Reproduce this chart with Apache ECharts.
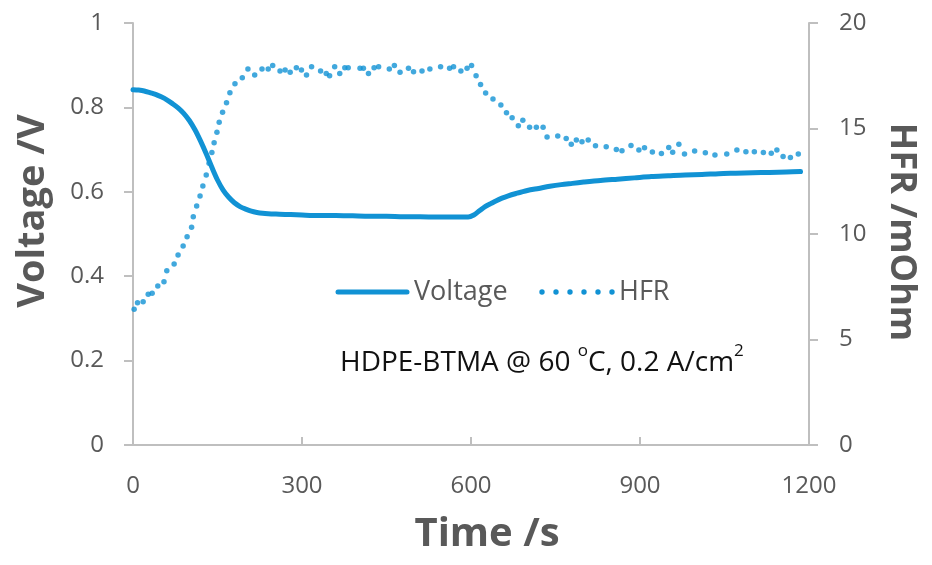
<!DOCTYPE html>
<html>
<head>
<meta charset="utf-8">
<script src="https://cdn.jsdelivr.net/npm/echarts@6/dist/echarts.min.js"></script>
<style>
  html, body { margin: 0; padding: 0; background: #fff; }
  #chart { width: 932px; height: 565px; }
</style>
</head>
<body>
<div id="chart"></div>
<script>
// Cell voltage trace (s, V)
const voltTime = [0, 10, 20, 30, 40, 50, 60, 70, 80, 90, 100, 110, 120, 130, 140, 150, 160, 170, 180, 190,
  200, 210, 220, 230, 240, 260, 280, 300, 330, 360, 390, 420, 450, 480, 510, 540, 570, 595,
  605, 615, 625, 635, 645, 655, 665, 680, 700, 720, 740, 760, 780, 800, 830, 860, 890, 920,
  950, 980, 1010, 1040, 1070, 1100, 1130, 1160, 1185];
const voltage = [0.842, 0.841, 0.839, 0.835, 0.831, 0.825, 0.818, 0.809, 0.799, 0.786, 0.769, 0.747, 0.720, 0.690, 0.658, 0.628, 0.604, 0.587, 0.574, 0.565,
  0.559, 0.554, 0.551, 0.549, 0.548, 0.547, 0.546, 0.545, 0.544, 0.544, 0.543, 0.542, 0.542, 0.541, 0.541, 0.540, 0.540, 0.540,
  0.545, 0.555, 0.565, 0.572, 0.579, 0.585, 0.590, 0.596, 0.603, 0.608, 0.613, 0.617, 0.620, 0.623, 0.627, 0.630, 0.633, 0.636,
  0.638, 0.640, 0.641, 0.643, 0.644, 0.645, 0.646, 0.647, 0.648];

// High-frequency resistance readings (s, mOhm)
const hfrTime = [2, 8, 18, 27, 34, 44, 55, 60, 73, 80, 89, 96, 104, 107, 113, 119, 124, 130, 135, 140,
  144, 149, 153, 159, 166, 172, 181, 194, 204, 216, 229, 240, 248, 261, 270, 279, 290, 299, 308, 317,
  333, 343, 349, 358, 367, 376, 382, 403, 409, 418, 428, 436, 455, 464, 474, 489, 498, 513, 527, 546,
  562, 569, 582, 593, 601, 609, 617, 626, 639, 653, 663, 673, 684, 692, 704, 716, 728, 735, 754, 769,
  778, 787, 797, 808, 821, 840, 858, 868, 884, 898, 908, 922, 938, 951, 958, 969, 979, 997, 1016, 1033,
  1054, 1072, 1088, 1103, 1119, 1133, 1143, 1154, 1167, 1181];
const hfr = [6.43, 6.74, 6.79, 7.15, 7.19, 7.53, 7.74, 8.26, 8.58, 9.00, 9.43, 9.87, 10.32, 10.82, 11.33, 11.80, 12.27, 12.80, 13.35, 13.86,
  14.33, 14.82, 15.30, 15.77, 16.22, 16.70, 17.12, 17.40, 17.82, 17.54, 17.82, 17.82, 17.98, 17.73, 17.77, 17.66, 17.88, 17.77, 17.54, 17.93,
  17.73, 17.61, 17.50, 17.93, 17.61, 17.88, 17.88, 17.85, 17.85, 17.61, 17.88, 17.93, 17.82, 17.98, 17.66, 17.85, 17.69, 17.73, 17.82, 17.93,
  17.85, 17.93, 17.73, 17.85, 17.98, 17.50, 17.09, 16.68, 16.40, 16.11, 15.75, 15.51, 15.13, 15.39, 15.06, 15.06, 15.06, 14.60, 14.64, 14.53,
  14.25, 14.45, 14.37, 14.45, 14.18, 14.14, 14.01, 13.95, 14.20, 13.98, 14.09, 13.89, 13.82, 14.10, 13.87, 14.25, 13.79, 13.93, 13.85, 13.74,
  13.79, 13.98, 13.90, 13.90, 13.86, 13.83, 13.98, 13.67, 13.62, 13.79];

// Axis ticks
const timeTicks = { min: 0, max: 1200, step: 300 };
const voltTicks = { min: 0, max: 1, step: 0.2 };
const hfrTicks = { min: 0, max: 20, step: 5 };

const BLUE = '#1192d4';
const AXIS = '#bfbfbf';
const LABEL = '#595959';
const FONT = '"Open Sans", "Liberation Sans", sans-serif';

const chart = echarts.init(document.getElementById('chart'), null, { renderer: 'canvas' });

// plain number labels (no thousands separator)
const plain = v => String(Math.round(v * 1000) / 1000);

const axisCommon = {
  axisLine: { show: true, lineStyle: { color: AXIS, width: 2 } },
  splitLine: { show: false },
  axisLabel: { color: LABEL, fontSize: 24, fontFamily: FONT, formatter: plain }
};

const legendY = 292;
const dotXs = [542, 556, 570, 584, 598, 612];

chart.setOption({
  animation: false,
  backgroundColor: '#ffffff',
  grid: { left: 133, right: 123, top: 23, bottom: 120, containLabel: false },
  xAxis: Object.assign({}, axisCommon, {
    type: 'value',
    min: timeTicks.min, max: timeTicks.max, interval: timeTicks.step,
    axisTick: { show: true, inside: true, length: 8, lineStyle: { color: AXIS, width: 2 } },
    axisLabel: Object.assign({}, axisCommon.axisLabel, { margin: 29 })
  }),
  yAxis: [
    Object.assign({}, axisCommon, {
      type: 'value', position: 'left',
      min: voltTicks.min, max: voltTicks.max, interval: voltTicks.step,
      axisTick: { show: true, inside: false, length: 9, lineStyle: { color: AXIS, width: 2 } },
      axisLabel: Object.assign({}, axisCommon.axisLabel, { margin: 29 })
    }),
    Object.assign({}, axisCommon, {
      type: 'value', position: 'right',
      min: hfrTicks.min, max: hfrTicks.max, interval: hfrTicks.step,
      axisTick: { show: true, inside: false, length: 9, lineStyle: { color: AXIS, width: 2 } },
      axisLabel: Object.assign({}, axisCommon.axisLabel, { margin: 30 })
    })
  ],
  series: [
    {
      name: 'Voltage', type: 'line', yAxisIndex: 0,
      data: voltTime.map((t, i) => [t, voltage[i]]),
      showSymbol: false, symbol: 'none', smooth: 0.3,
      lineStyle: { color: BLUE, width: 5, cap: 'round', join: 'round' },
      z: 2
    },
    {
      name: 'HFR', type: 'scatter', yAxisIndex: 1,
      data: hfrTime.map((t, i) => [t, hfr[i]]),
      symbol: 'circle', symbolSize: 5.5,
      itemStyle: { color: BLUE },
      z: 3
    }
  ],
  graphic: [
    // axis titles
    {
      type: 'text', x: 33, y: 211, rotation: Math.PI / 2,
      style: { text: 'Voltage /V', fill: LABEL, font: 'bold 38px ' + FONT, align: 'center', verticalAlign: 'middle' }
    },
    {
      type: 'text', x: 901, y: 232, rotation: -Math.PI / 2,
      style: { text: 'HFR /mOhm', fill: LABEL, font: 'bold 36px ' + FONT, align: 'center', verticalAlign: 'middle' }
    },
    {
      type: 'text', x: 487, y: 535,
      style: { text: 'Time /s', fill: LABEL, font: 'bold 40px ' + FONT, align: 'center', verticalAlign: 'middle' }
    },
    // legend
    {
      type: 'line', shape: { x1: 338, y1: legendY, x2: 407, y2: legendY },
      style: { stroke: BLUE, lineWidth: 5, lineCap: 'round' }
    },
    {
      type: 'text', x: 414, y: legendY,
      style: { text: 'Voltage', fill: LABEL, font: '27px ' + FONT, align: 'left', verticalAlign: 'middle' }
    },
    ...dotXs.map(x => ({
      type: 'circle', shape: { cx: x, cy: legendY, r: 2.7 }, style: { fill: BLUE }
    })),
    {
      type: 'text', x: 619, y: legendY,
      style: { text: 'HFR', fill: LABEL, font: '27px ' + FONT, align: 'left', verticalAlign: 'middle' }
    },
    // test conditions
    {
      type: 'text', x: 340, y: 360,
      style: {
        text: '{n|HDPE-BTMA @ 60 }{s|o}{n|C, 0.2 A/cm}{s|2}',
        align: 'left', verticalAlign: 'middle',
        rich: {
          n: { fill: '#111111', fontSize: 28, fontFamily: FONT, lineHeight: 34, verticalAlign: 'bottom' },
          s: { fill: '#111111', fontSize: 17, fontFamily: FONT, lineHeight: 34, verticalAlign: 'top' }
        }
      }
    }
  ]
});
</script>
</body>
</html>
